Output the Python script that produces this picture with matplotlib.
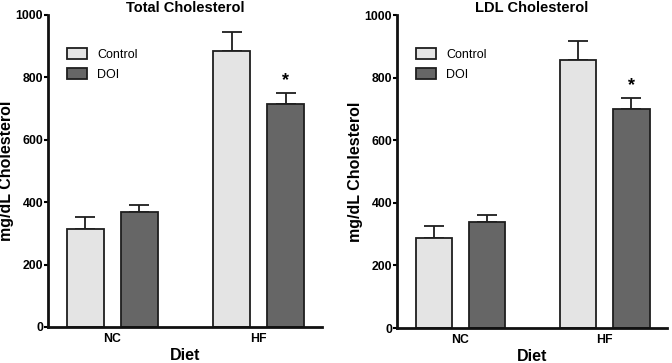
import matplotlib.pyplot as plt
import numpy as np

# Data
groups      = ["NC", "HF"]
series      = ["Control", "DOI"]
total_mean  = {"Control": [313, 885], "DOI": [368, 714]}
total_err   = {"Control": [41, 59],   "DOI": [23, 37]}
ldl_mean    = {"Control": [288, 858], "DOI": [338, 700]}
ldl_err     = {"Control": [39, 59],   "DOI": [23, 36]}
titles      = ["Total Cholesterol", "LDL Cholesterol"]
yticks      = [0, 200, 400, 600, 800, 1000]

colors = {"Control": "#e4e4e4", "DOI": "#666666"}
edge   = "#1e1e1e"

plt.rcParams["font.family"] = ["Liberation Sans", "DejaVu Sans"]

fig = plt.figure(figsize=(6.72, 3.63), dpi=100)
axes = [fig.add_axes([0.0714, 0.0992, 0.4077, 0.8595]),
        fig.add_axes([0.5908, 0.0964, 0.4018, 0.8620])]

centers = np.array([0.0, 3.95])
offsets = {"Control": -0.73, "DOI": 0.73}

for ax, title, means, errs in zip(axes, titles,
                                  [total_mean, ldl_mean],
                                  [total_err, ldl_err]):
    for s in series:
        x = centers + offsets[s]
        ax.bar(x, means[s], width=1.0, color=colors[s], edgecolor=edge,
               linewidth=1.3, label=s, zorder=2)
        ax.errorbar(x, means[s], yerr=[np.zeros(2), errs[s]], fmt="none",
                    ecolor=edge, elinewidth=1.3, capsize=7.5, capthick=1.3,
                    zorder=1)

    # significance star over HF DOI
    xs = centers[1] + offsets["DOI"]
    top = means["DOI"][1] + errs["DOI"][1]
    ax.text(xs, top + 12, "*", ha="center", va="bottom",
            fontsize=13, fontweight="bold")

    ax.set_xlim(-1.74, 5.66)
    ax.set_ylim(0, 1000)
    ax.set_yticks(yticks)
    ax.set_yticklabels([str(t) for t in yticks], fontsize=8.8,
                       fontweight="bold")
    ax.set_xticks(centers)
    ax.set_xticklabels(groups, fontsize=8.8, fontweight="bold")
    ax.tick_params(axis="x", length=0, pad=4)
    ax.tick_params(axis="y", length=3, width=1.5, pad=0.5)

    for side in ["top", "right"]:
        ax.spines[side].set_visible(False)
    for side in ["left", "bottom"]:
        ax.spines[side].set_linewidth(2)
        ax.spines[side].set_color("#111111")

    ax.set_title(title, fontsize=10.5, fontweight="bold", pad=2)
    ax.set_xlabel("Diet", fontsize=11.5, fontweight="bold", labelpad=2.5)
    ax.set_ylabel("mg/dL Cholesterol", fontsize=11.5, fontweight="bold",
                  labelpad=1)

    ax.legend(loc="upper left", bbox_to_anchor=(0.03, 0.93), frameon=False,
              fontsize=9, handlelength=1.6, handleheight=1.0,
              labelspacing=0.55, handletextpad=0.8)

fig.savefig("out.png", dpi=100)
